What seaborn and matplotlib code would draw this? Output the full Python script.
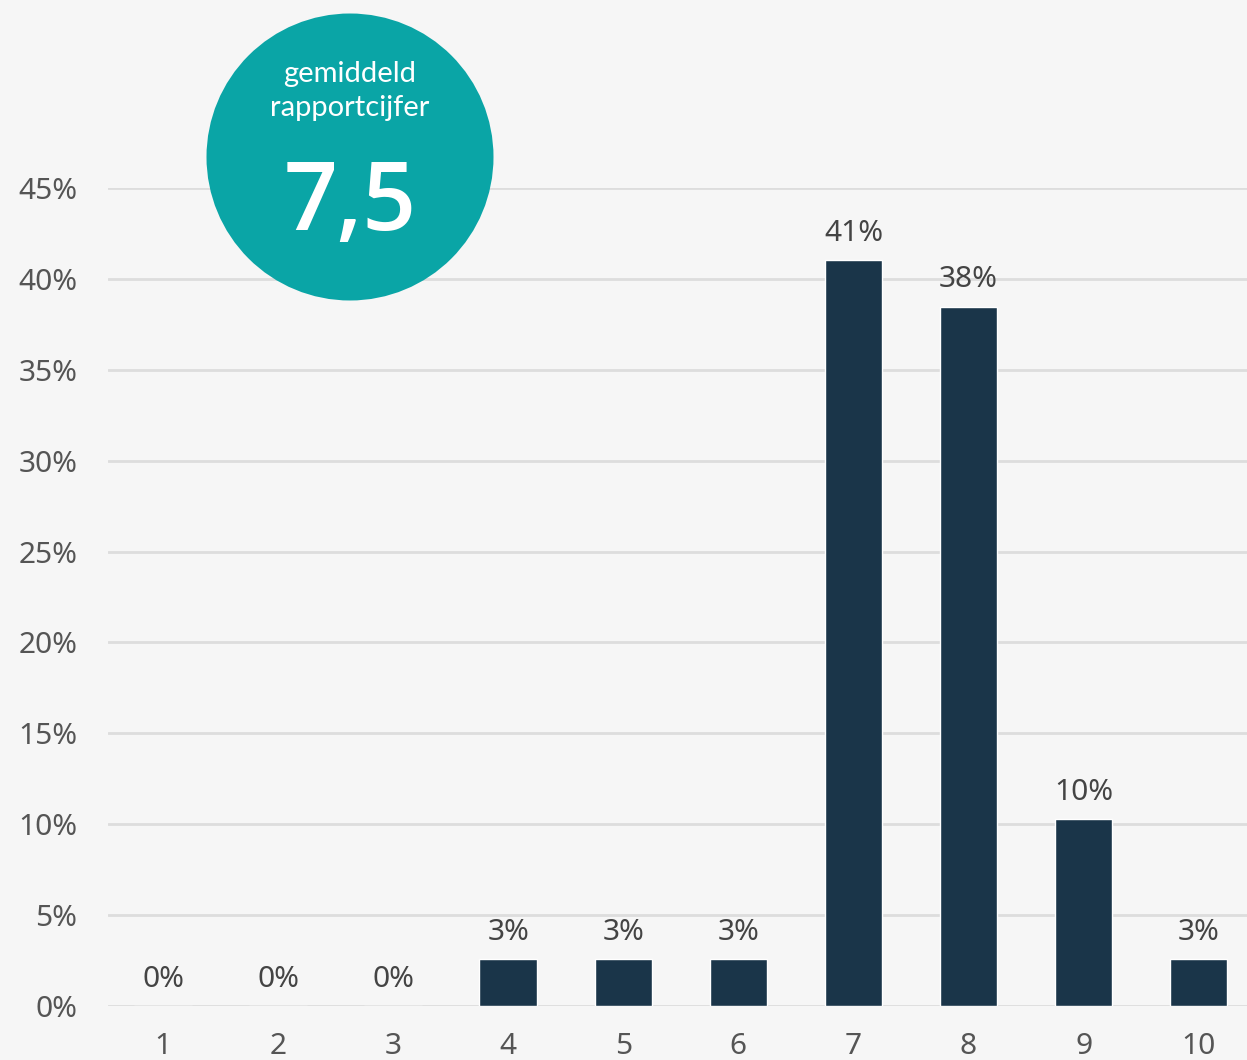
import matplotlib
matplotlib.use("Agg")
import matplotlib.pyplot as plt
import seaborn as sns
import pandas as pd
from matplotlib.patches import Ellipse

# Score distribution (share of respondents per report mark, in %)
grades = ["1", "2", "3", "4", "5", "6", "7", "8", "9", "10"]
shares = [0.0, 0.0, 0.0, 2.56, 2.56, 2.56, 41.03, 38.46, 10.26, 2.56]
average_label = "7,5"
badge_line1 = "gemiddeld"
badge_line2 = "rapportcijfer"
y_ticks = [0, 5, 10, 15, 20, 25, 30, 35, 40, 45]

BG = "#f6f6f6"
BAR = "#1a3549"
TEAL = "#0aa5a6"
TEXT = "#555555"
GRID = "#dddddd"

sns.set_theme(style="white")
plt.rcParams["font.family"] = ["Noto Sans", "DejaVu Sans"]

df = pd.DataFrame({"grade": grades, "share": shares})

W, H = 1247, 1060
fig = plt.figure(figsize=(W / 100, H / 100), dpi=100, facecolor=BG)
ax = fig.add_axes([108 / W, 1 - 1006 / H, 1 - 108 / W, (1006 - 188) / H])
ax.set_facecolor(BG)

sns.barplot(data=df, x="grade", y="share", color=BAR, width=0.5,
            saturation=1, ax=ax, zorder=3)

ax.set_xlim(-0.478, 9.42)
ax.set_ylim(0, 45)
ax.set_yticks(y_ticks)
ax.set_yticklabels([f"{t}%" for t in y_ticks])
ax.set_xlabel("")
ax.set_ylabel("")
for s in ax.spines.values():
    s.set_visible(False)
ax.grid(axis="y", color=GRID, linewidth=2, zorder=0)
ax.grid(axis="x", visible=False)
ax.tick_params(axis="both", length=0, labelsize=21.5, labelcolor=TEXT)
ax.tick_params(axis="y", pad=22)
ax.tick_params(axis="x", pad=19)

for i, v in enumerate(shares):
    ax.annotate(f"{v:.0f}%", xy=(i, v), xytext=(0, 14), textcoords="offset points",
                ha="center", va="baseline", fontsize=21.5, color="#444444")

# Average-mark badge
cx, cy = 350 / W, 1 - 157 / H
badge = Ellipse((cx, cy), 287 / W, 287 / H, transform=fig.transFigure,
                facecolor=TEAL, edgecolor="none", zorder=5)
fig.patches.append(badge)
fig.text(cx, 1 - 74 / H, badge_line1, ha="center", va="center",
         color="white", fontsize=21, family=["Lato", "Noto Sans"],
         fontweight="normal", zorder=6)
fig.text(cx, 1 - 108 / H, badge_line2, ha="center", va="center",
         color="white", fontsize=21, family=["Lato", "Noto Sans"],
         fontweight="normal", zorder=6)
fig.text(cx, 1 - 230 / H, average_label, ha="center", va="baseline",
         color="white", fontsize=68, family=["Open Sans", "Noto Sans"],
         fontweight="semibold", zorder=6)

fig.savefig("out.png", dpi=100, facecolor=BG)
